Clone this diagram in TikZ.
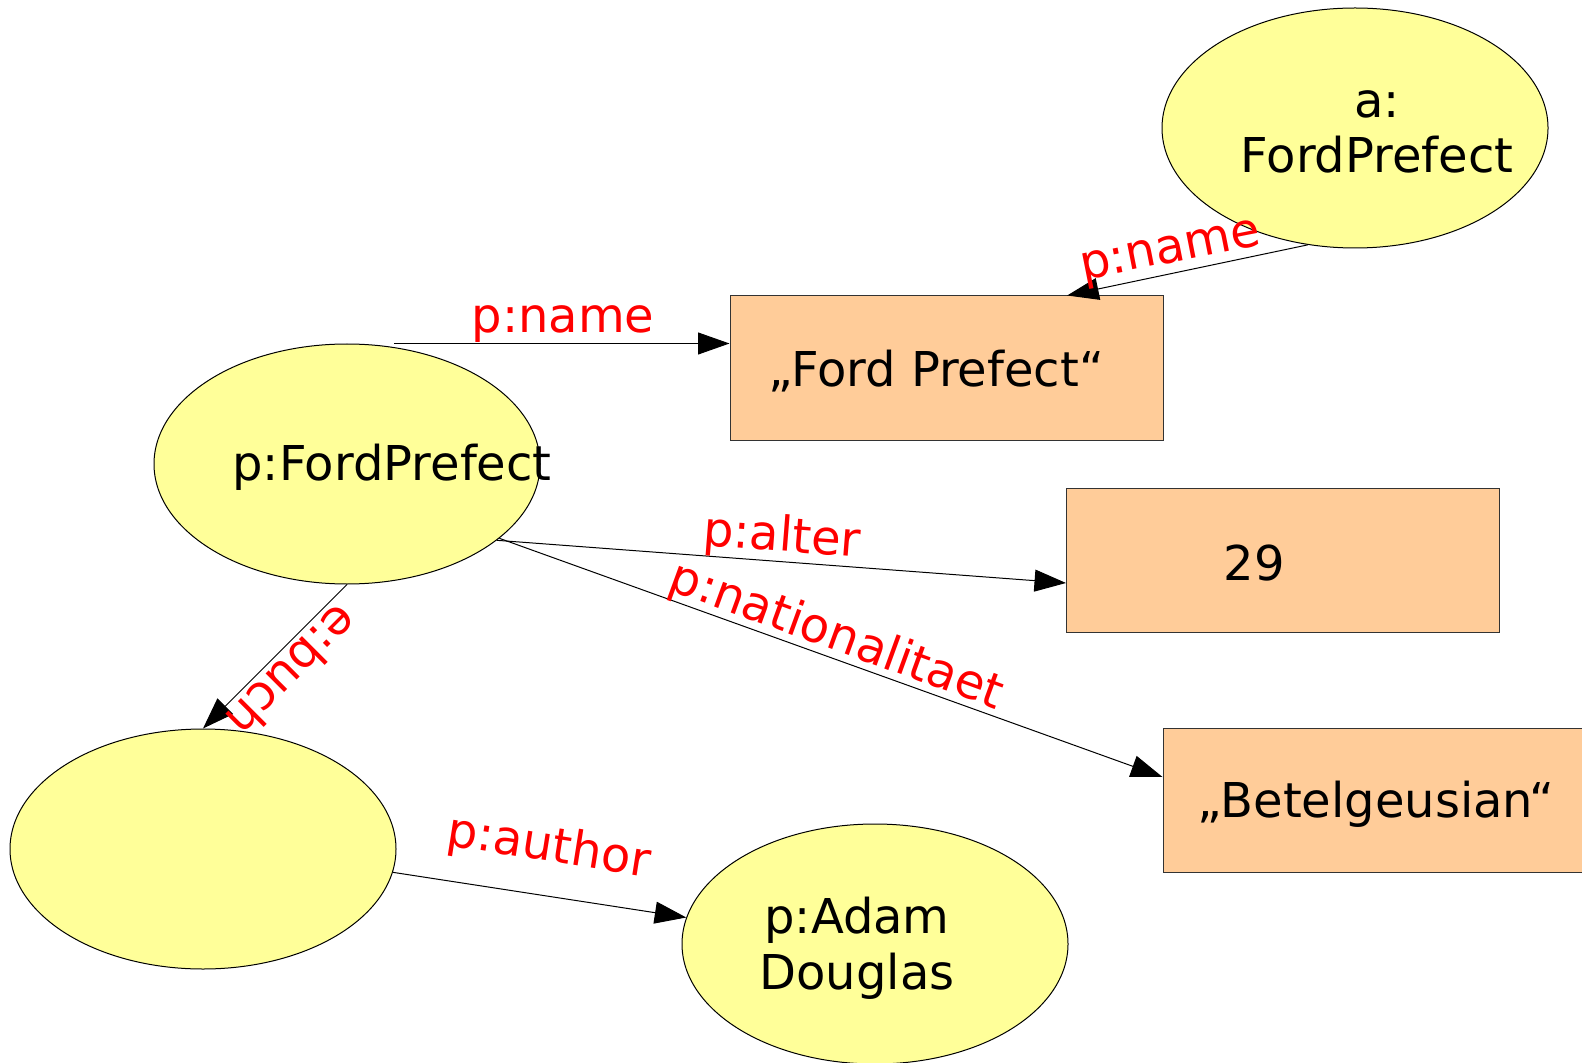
\documentclass[tikz,border=0pt]{standalone}
\usepackage{fontspec}
\setmainfont{DejaVu Sans}
\usetikzlibrary{arrows.meta,calc,shapes.geometric}
\definecolor{resfill}{HTML}{FFFF99}
\definecolor{litfill}{HTML}{FFCC99}
\begin{document}
\begin{tikzpicture}[x=0.5pt,y=-0.5pt,
  res/.style={ellipse, draw=black, fill=resfill, line width=0.5pt,
    minimum width=193pt, minimum height=120pt, inner sep=0pt},
  lit/.style={rectangle, draw=black!80, fill=litfill, line width=0.5pt,
    minimum width=216.5pt, minimum height=72pt, inner sep=0pt},
  txt/.style={font=\fontsize{24}{27.75}\selectfont, text=black,
    inner sep=0pt, align=center},
  prop/.style={font=\fontsize{24}{28}\selectfont, text=red, inner sep=0pt},
  rel/.style={-{Triangle[length=15.75pt,width=11pt]}, line width=0.5pt, draw=black}]
\clip (0,0) rectangle (1582,1063);
\fill[white] (0,0) rectangle (1582,1063);

% resources (ellipses) and literals (boxes)
\node[res] (af) at (1355,128) {};
\node[res] (pf) at (347,464) {};
\node[res] (bk) at (203,849) {};
\node[res] (ad) at (875,944) {};
\node[lit] (fp) at (946.5,368) {};
\node[lit] (age) at (1283,560.5) {};
\node[lit] (nat) at (1379.5,800) {};

% node texts
\node[txt] (af-t) at (1377,132) {a:\\FordPrefect};
\node[txt] (pf-t) at (392,467) {p:FordPrefect};
\node[txt] (ad-t) at (857,948) {p:Adam\\Douglas};
\node[txt] (fp-t) at (936,371) {„Ford Prefect“};
\node[txt] (age-t) at (1254,563) {29};
\node[txt] (nat-t) at (1376,804) {„Betelgeusian“};

% properties
\draw[rel] ($(pf.north)+(47,0)$) -- (pf.north -| fp.west);
\draw[rel] (af.248) -- ($(fp.north west)!0.778!(fp.north east)$);
\draw[rel] (pf.-27) -- ($(age.west)+(0,22.5)$);
\draw[rel] (pf.-26) -- ($(nat.west)+(0,-23)$);
\draw[rel] (pf.south) -- (bk.north);
\draw[rel] (bk.-7) -- (ad.172);

% property labels
\node[prop] (l-name1) at (563,324) {p:name};
\node[prop, rotate=11.2] (l-name2) at (1171,254) {p:name};
\node[prop, rotate=-4.5] (l-alter) at (782,538) {p:alter};
\node[prop, rotate=-20] (l-nat) at (836,637) {p:nationalitaet};
\node[prop, rotate=-135] (l-buch) at (293,672) {e:buch};
\node[prop, rotate=-9] (l-author) at (549,848) {p:author};
\end{tikzpicture}
\end{document}
